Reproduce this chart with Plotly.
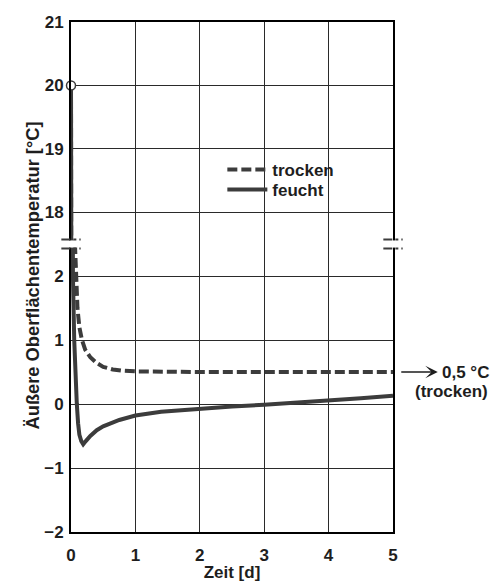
import plotly.graph_objects as go

# Surface temperature over time (days), dry vs. wet wall
t_trocken = [0, 0.004, 0.01, 0.02, 0.035, 0.05, 0.06, 0.08, 0.1, 0.13, 0.17, 0.22, 0.3,
             0.4, 0.5, 0.65, 0.8, 1.0, 1.5, 2.0, 3.0, 4.0, 5.0]
T_trocken = [20, 17.0, 9.0, 5.0, 3.3, 2.8, 2.5, 2.0, 1.5, 1.2, 1.0, 0.85, 0.73,
             0.64, 0.58, 0.54, 0.52, 0.51, 0.5, 0.5, 0.5, 0.5, 0.5]

t_feucht = [0, 0.003, 0.008, 0.015, 0.022, 0.03, 0.05, 0.07, 0.09, 0.11, 0.13, 0.16, 0.19,
            0.23, 0.3, 0.4, 0.5, 0.75, 1.0, 1.4, 2.0, 2.5, 3.0, 3.5, 4.0, 4.5, 5.0]
T_feucht = [20, 17.0, 10.0, 5.0, 2.8, 2.0, 1.0, 0.4, 0.0, -0.3, -0.48, -0.58, -0.63,
            -0.58, -0.5, -0.41, -0.35, -0.25, -0.18, -0.12, -0.07, -0.04, -0.01, 0.02, 0.05, 0.09, 0.13]

start_t = [0]
start_T = [20]

x_ticks = [0, 1, 2, 3, 4, 5]
y_ticks_low = [-2, -1, 0, 1, 2]
y_ticks_high = [18, 19, 20, 21]

LINE = "#3c3c3c"
GRID = "#2a2a2a"
TXT = "#1e1e1e"
FONT = "Liberation Sans, Arial, sans-serif"
BOLD17 = dict(family=FONT, size=17, color=TXT, weight="bold")

fig = go.Figure()

for xa, ya, show in (("x", "y", True), ("x2", "y2", False)):
    fig.add_trace(go.Scatter(x=t_trocken, y=T_trocken, mode="lines", name="trocken",
                             line=dict(color=LINE, width=4, dash="10px,4px"),
                             xaxis=xa, yaxis=ya, showlegend=show, legend="legend"))
    fig.add_trace(go.Scatter(x=t_feucht, y=T_feucht, mode="lines", name="feucht",
                             line=dict(color=LINE, width=4),
                             xaxis=xa, yaxis=ya, showlegend=show, legend="legend2"))

fig.add_trace(go.Scatter(x=start_t, y=start_T, mode="markers", showlegend=False,
                         marker=dict(size=9, color="white", line=dict(color=LINE, width=1.5)),
                         cliponaxis=False, xaxis="x2", yaxis="y2"))

split = 288 / 510

axis_common = dict(showline=True, linecolor="black", linewidth=2, showgrid=True,
                   gridcolor=GRID, gridwidth=1, zeroline=False, ticks="",
                   tickfont=BOLD17, automargin=False)

legend_common = dict(xanchor="left", yanchor="top", bgcolor="rgba(0,0,0,0)",
                     font=BOLD17, itemwidth=40, borderwidth=0)

fig.update_layout(
    width=492, height=582,
    margin=dict(l=71, r=99, t=22, b=50, autoexpand=False),
    paper_bgcolor="white", plot_bgcolor="white",
    xaxis=dict(range=[0, 5], tickvals=x_ticks, anchor="y", ticklabelstandoff=7,
               **axis_common,
               title=dict(text="Zeit [d]", standoff=2, font=BOLD17)),
    xaxis2=dict(range=[0, 5], tickvals=x_ticks, anchor="y2", matches="x", side="top",
                showticklabels=False, **axis_common),
    yaxis=dict(range=[-2, 2.5], tickvals=y_ticks_low, domain=[0, split], anchor="x",
               mirror=True, ticklabelstandoff=2, **axis_common),
    yaxis2=dict(range=[17.5, 21], tickvals=y_ticks_high, domain=[split, 1], anchor="x2",
                mirror=True, ticklabelstandoff=2, **axis_common),
    legend=dict(x=0.47, y=0.745, **legend_common),
    legend2=dict(x=0.47, y=0.706, **legend_common),
)

# axis break marks on both sides
for xp in (0.0, 1.0):
    fig.add_shape(type="rect", xref="paper", yref="paper",
                  x0=xp - 0.02, x1=xp + 0.02, y0=split - 0.007, y1=split + 0.007,
                  fillcolor="white", line=dict(width=0), layer="above")
    for dy in (-0.009, 0.009):
        fig.add_shape(type="line", xref="paper", yref="paper",
                      x0=xp - 0.03, x1=xp + 0.03, y0=split + dy, y1=split + dy,
                      line=dict(color=LINE, width=2, dash="dashdot"), layer="above")

# arrow pointing at the final dry value
fig.add_annotation(x=1.139, y=T_trocken[-1], xref="paper", yref="y",
                   ax=-38, ay=0, showarrow=True, arrowhead=3, arrowsize=1.6,
                   arrowwidth=1.3, arrowcolor=TXT, text="")
fig.add_annotation(x=1.147, y=T_trocken[-1], xref="paper", yref="y", xanchor="left",
                   showarrow=False, text="0,5 °C", font=BOLD17)
fig.add_annotation(x=1.183, y=T_trocken[-1] - 0.31, xref="paper", yref="y", xanchor="center",
                   showarrow=False, text="(trocken)", font=BOLD17)

# shared y-axis title
fig.add_annotation(x=(20 - 71) / 322, y=0.502, xref="paper", yref="paper", textangle=-90,
                   showarrow=False, text="Äußere Oberflächentemperatur [°C]",
                   font=dict(family=FONT, size=18.3, color=TXT, weight="bold"))

fig.write_html("out.html")
